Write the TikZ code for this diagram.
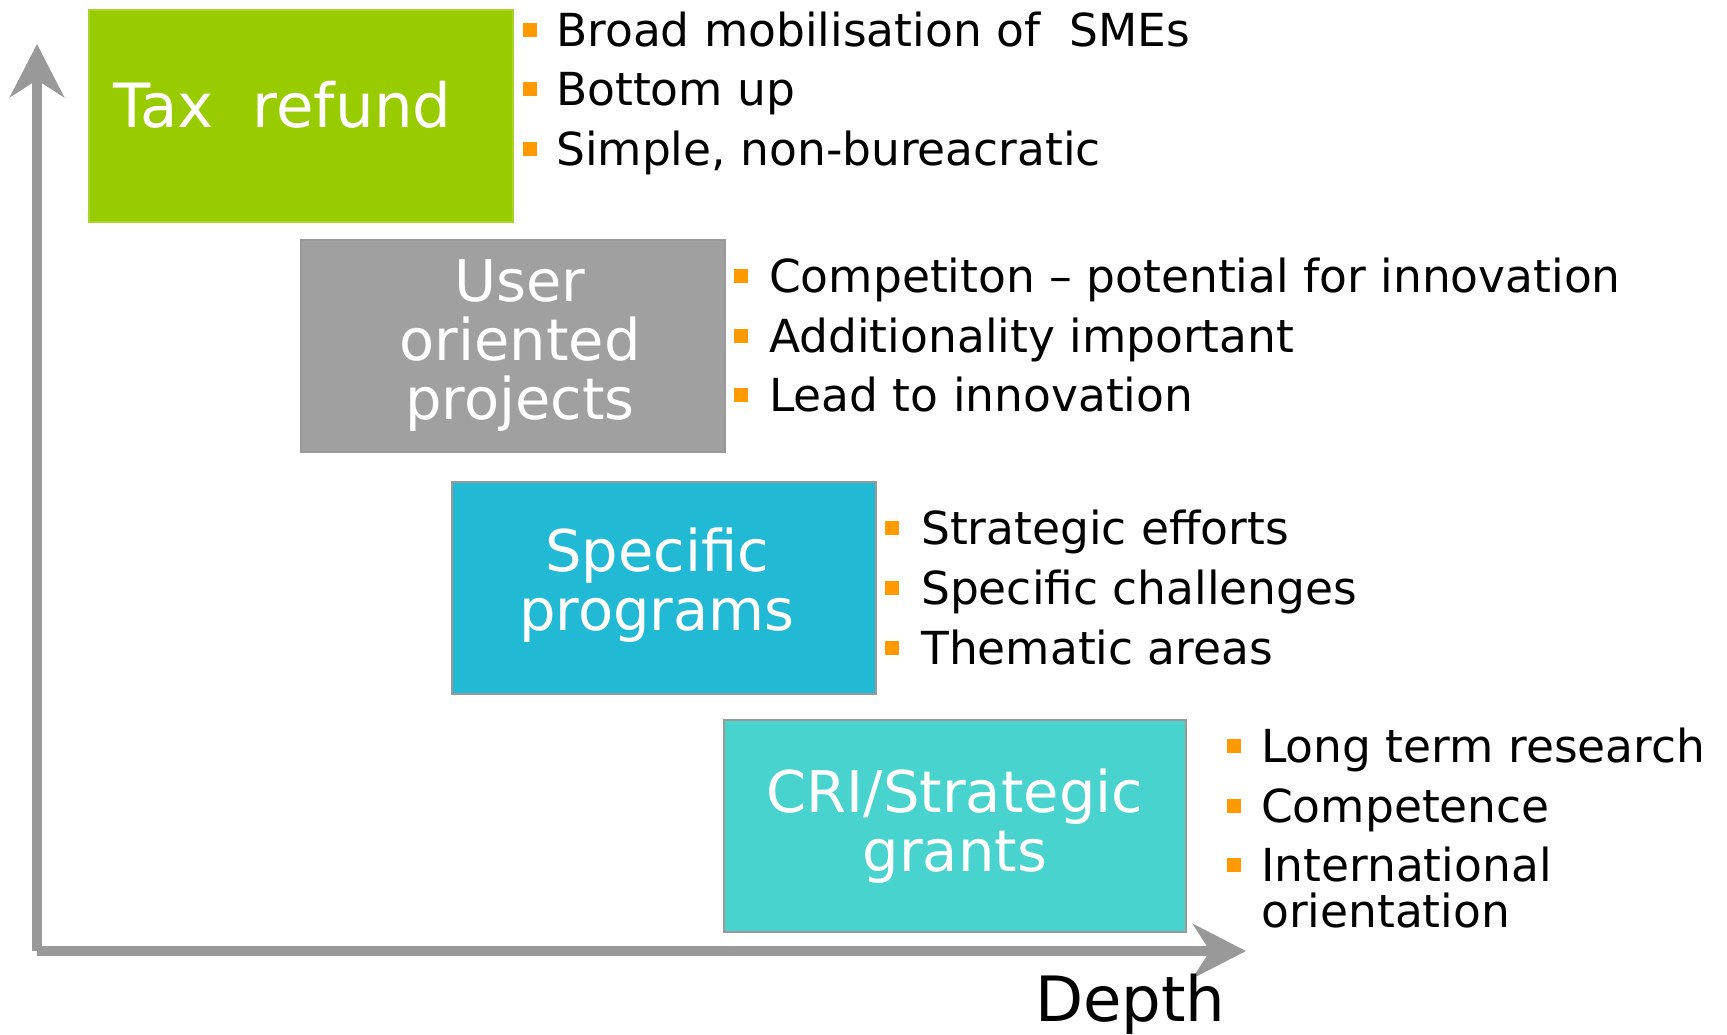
\documentclass[tikz,border=0pt]{standalone}
\usepackage{fontspec}
\setmainfont{DejaVu Sans}
\usetikzlibrary{arrows.meta}

\definecolor{taxgreen}{HTML}{99CC00}
\definecolor{usergray}{HTML}{A0A0A0}
\definecolor{speccyan}{HTML}{22B9D5}
\definecolor{criturq}{HTML}{48D3CE}
\definecolor{bulletorange}{HTML}{FF9900}
\definecolor{axisgray}{HTML}{999999}

\tikzset{
    axis/.style={line width=10pt, axisgray, -{Stealth[length=53pt, width=54pt, inset=17pt]}},
    box/.style={minimum width=424pt, minimum height=212pt, inner sep=0pt, draw=axisgray, line width=2pt,
        text=white, align=center, font=\fontsize{57.5}{59}\selectfont},
    bullet/.style={fill=bulletorange, minimum size=14pt, inner sep=0pt},
    item/.style={anchor=base west, inner sep=0pt, font=\fontsize{45.5}{46}\selectfont},
}

\begin{document}
\begin{tikzpicture}[x=1pt, y=-1pt]
    \useasboundingbox (0,0) rectangle (1727,1034);

    % Axes
    \coordinate (origin) at (37,951);
    \coordinate (ytip) at (37,44);
    \coordinate (xtip) at (1246,951);
    \draw[axis] (origin) -- (ytip); % y-axis
    \draw[axis] (origin) -- (xtip); % x-axis
    \node[anchor=base west, inner sep=0pt, font=\fontsize{62.5}{64}\selectfont] (depth) at (1035,1021) {Depth};

    % Boxes
    \node[box, fill=taxgreen, draw=taxgreen!85!white] (tax) at (301,116) {};
    \node[anchor=base west, inner sep=0pt, text=white, font=\fontsize{61}{62}\selectfont] (taxtext) at (113,127) {Tax\ \ refund};
    \node[box, fill=usergray] (user) at (513,346) {};
    \node[text=white, align=center, font=\fontsize{57.5}{59}\selectfont] (usertext) at (520,346) {User\\oriented\\projects};
    \node[box, fill=speccyan] (spec) at (664,587.5) {};
    \node[text=white, align=center, font=\fontsize{57.5}{59}\selectfont] (spectext) at (657,585) {Specific\\programs};
    \node[box, fill=criturq, minimum width=462pt] (cri) at (955,826) {CRI/Strategic\\grants};

    % Bullet lists
    \foreach \y/\txt [count=\i] in {46/{Broad mobilisation of\ \ SMEs}, 105/{Bottom up}, 165/{Simple, non-bureacratic}} {
        \node[bullet] (taxb\i) at (530,\y-16) {};
        \node[item] (taxi\i) at (556,\y) {\txt};
    }
    \foreach \y/\txt [count=\i] in {292/{Competiton – potential for innovation}, 352/{Additionality important}, 411/{Lead to innovation}} {
        \node[bullet] (userb\i) at (741,\y-16) {};
        \node[item] (useri\i) at (769,\y) {\txt};
    }
    \foreach \y/\txt [count=\i] in {544/{Strategic efforts}, 604/{Specific challenges}, 664/{Thematic areas}} {
        \node[bullet] (specb\i) at (892,\y-16) {};
        \node[item] (speci\i) at (921,\y) {\txt};
    }
    \foreach \y/\txt [count=\i] in {762/{Long term research}, 822/{Competence}, 881/{International}} {
        \node[bullet] (crib\i) at (1234,\y-16) {};
        \node[item] (crii\i) at (1261,\y) {\txt};
    }
    \node[item] (crii4) at (1261,927) {orientation};

\end{tikzpicture}
\end{document}
